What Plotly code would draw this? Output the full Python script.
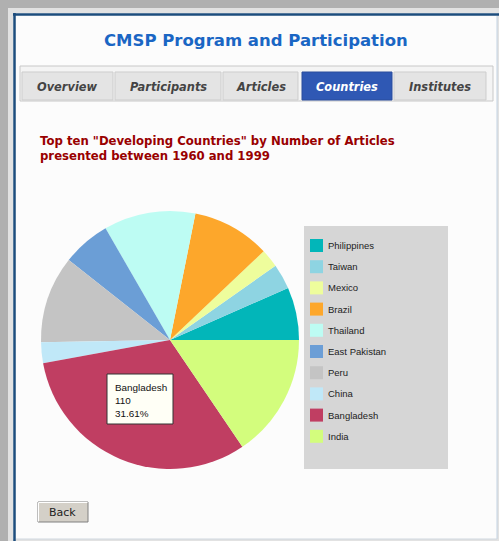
import plotly.graph_objects as go

# ---- data ----
countries = ["Philippines", "Taiwan", "Mexico", "Brazil", "Thailand",
             "East Pakistan", "Peru", "China", "Bangladesh", "India"]
articles = [23, 11, 8, 34, 40, 21, 38, 9, 110, 54]
colors = ["#02b6b9", "#8ed4e2", "#eefd9c", "#fda72b", "#bdfcf3",
          "#6b9ed6", "#c4c4c4", "#c0e8f8", "#c03e62", "#d3fd7d"]
tabs = ["Overview", "Participants", "Articles", "Countries", "Institutes"]
active_tab = "Countries"
highlight = "Bangladesh"

W, H = 499, 541


def px(x):
    return x / W


def py(y):
    return 1 - y / H


shapes = []
annots = []

# page background / frame
shapes.append(dict(type="rect", xref="paper", yref="paper", x0=px(8), x1=px(W), y0=py(8), y1=py(H),
                   fillcolor="#e2e2e2", line=dict(width=0), layer="below"))
shapes.append(dict(type="rect", xref="paper", yref="paper", x0=px(13), x1=px(497), y0=py(13), y1=py(539),
                   fillcolor="#fcfcfc", line=dict(width=0), layer="below"))
shapes.append(dict(type="line", xref="paper", yref="paper", x0=px(13), x1=px(W), y0=py(14.5), y1=py(14.5),
                   line=dict(color="#1d4d7d", width=2.5), layer="below"))
shapes.append(dict(type="line", xref="paper", yref="paper", x0=px(14.5), x1=px(14.5), y0=py(13), y1=py(H),
                   line=dict(color="#1d4d7d", width=2.5), layer="below"))
shapes.append(dict(type="line", xref="paper", yref="paper", x0=px(497), x1=px(497), y0=py(16), y1=py(539),
                   line=dict(color="#c4d4e4", width=1), layer="below"))
shapes.append(dict(type="line", xref="paper", yref="paper", x0=px(16), x1=px(497), y0=py(539), y1=py(539),
                   line=dict(color="#d0d8e0", width=1), layer="below"))

# title
annots.append(dict(x=px(256), y=py(41), xref="paper", yref="paper", showarrow=False,
                   text="<b>CMSP Program and Participation</b>", xanchor="center", yanchor="middle",
                   font=dict(family="DejaVu Sans", size=16.5, color="#1a66c4")))

# tab container
shapes.append(dict(type="rect", xref="paper", yref="paper", x0=px(20), x1=px(493), y0=py(66), y1=py(101),
                   fillcolor="#f4f4f4", line=dict(color="#c8c8c8", width=1), layer="below"))
tab_bounds = [(22, 113), (115, 221), (223, 298), (302, 392), (394, 486)]
for name, (x0, x1) in zip(tabs, tab_bounds):
    act = name == active_tab
    shapes.append(dict(type="rect", xref="paper", yref="paper", x0=px(x0), x1=px(x1), y0=py(72), y1=py(100),
                       fillcolor="#2f58b4" if act else "#e4e4e4",
                       line=dict(color="#2a4c9c" if act else "#cdcdcd", width=1), layer="below"))
    annots.append(dict(x=px((x0 + x1) / 2), y=py(87), xref="paper", yref="paper", showarrow=False,
                       text=f"<b><i>{name}</i></b>", xanchor="center", yanchor="middle",
                       font=dict(family="DejaVu Sans", size=11.4, color="#ffffff" if act else "#444444")))

# subtitle
annots.append(dict(x=px(38), y=py(149), xref="paper", yref="paper", showarrow=False, align="left",
                   text="<b>Top ten \"Developing Countries\" by Number of Articles<br>presented between 1960 and 1999</b>",
                   xanchor="left", yanchor="middle",
                   font=dict(family="DejaVu Sans", size=11.7, color="#990000")))

# legend box
shapes.append(dict(type="rect", xref="paper", yref="paper", x0=px(304), x1=px(448), y0=py(226), y1=py(469),
                   fillcolor="#d6d6d6", line=dict(width=0), layer="below"))
for i, (c, col) in enumerate(zip(countries, colors)):
    yc = 245.5 + i * 21.2
    shapes.append(dict(type="rect", xref="paper", yref="paper", x0=px(310), x1=px(323),
                       y0=py(yc - 6.5), y1=py(yc + 6.5), fillcolor=col, line=dict(width=0)))
    annots.append(dict(x=px(326), y=py(yc), xref="paper", yref="paper", showarrow=False,
                       text=c, xanchor="left", yanchor="middle",
                       font=dict(family="Liberation Sans", size=9.5, color="#222222")))

# tooltip
hi = countries.index(highlight)
total = sum(articles)
shapes.append(dict(type="rect", xref="paper", yref="paper", x0=px(107), x1=px(173), y0=py(374), y1=py(424),
                   fillcolor="#fffff6", line=dict(color="#333333", width=1)))
annots.append(dict(x=px(113), y=py(400), xref="paper", yref="paper", showarrow=False, align="left",
                   text=f"{countries[hi]}<br>{articles[hi]}<br>{articles[hi] / total * 100:.2f}%",
                   xanchor="left", yanchor="middle",
                   font=dict(family="Liberation Sans", size=9.9, color="#111111")))

# back button
shapes.append(dict(type="rect", xref="paper", yref="paper", x0=px(38), x1=px(88), y0=py(502), y1=py(522),
                   fillcolor="#d4d0c8", line=dict(color="#808080", width=1)))
shapes.append(dict(type="line", xref="paper", yref="paper", x0=px(38.5), x1=px(87.5), y0=py(502.5), y1=py(502.5),
                   line=dict(color="#ffffff", width=1)))
shapes.append(dict(type="line", xref="paper", yref="paper", x0=px(38.5), x1=px(38.5), y0=py(502.5), y1=py(521.5),
                   line=dict(color="#ffffff", width=1)))
annots.append(dict(x=px(63), y=py(512), xref="paper", yref="paper", showarrow=False,
                   text="Back", xanchor="center", yanchor="middle",
                   font=dict(family="DejaVu Sans", size=11, color="#222222")))

# pie: first slice starts at 3 o'clock and runs counterclockwise
cx, cy, r = 170, 340, 129
first_angle = 360.0 * articles[0] / total
fig = go.Figure(go.Pie(
    labels=countries, values=articles, sort=False, direction="counterclockwise",
    rotation=90 - first_angle,
    marker=dict(colors=colors, line=dict(width=0)),
    textinfo="none", hoverinfo="label+value+percent", showlegend=False,
    domain=dict(x=[px(cx - r), px(cx + r)], y=[py(cy + r), py(cy - r)]),
))

fig.update_layout(
    width=W, height=H, margin=dict(l=0, r=0, t=0, b=0),
    paper_bgcolor="#b0b0b0", plot_bgcolor="#b0b0b0",
    shapes=shapes, annotations=annots, showlegend=False,
)
fig.write_html(
    "out.html",
    config={"displayModeBar": False},
    post_script="document.body.style.margin='0px';document.body.style.overflow='hidden';"
                "document.body.style.background='#b0b0b0';",
)
